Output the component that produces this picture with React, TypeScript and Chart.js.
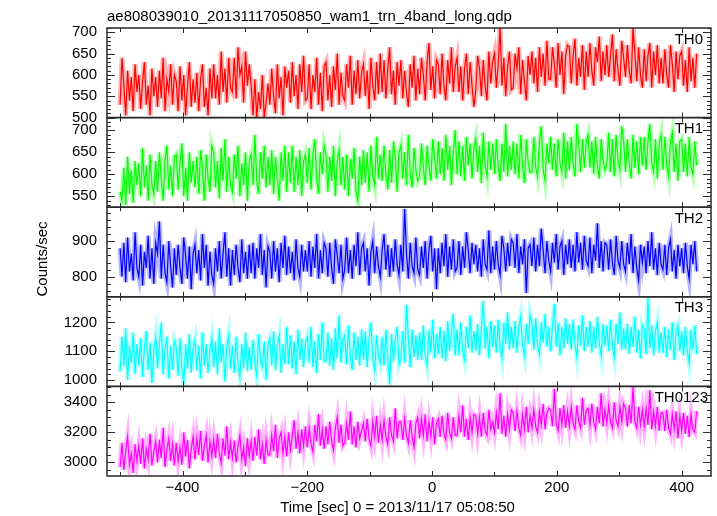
import React, { useEffect, useRef } from 'react';
import { Chart, registerables } from 'chart.js';

Chart.register(...registerables);

const TITLE = 'ae808039010_20131117050850_wam1_trn_4band_long.qdp';
const X_TITLE = 'Time [sec] 0 = 2013/11/17 05:08:50';
const Y_TITLE = 'Counts/sec';
const TIME_START = -500;
const TIME_BIN = 3;
const X_TICKS = [-400, -200, 0, 200, 400];
const PANEL_LABELS = ['TH0', 'TH1', 'TH2', 'TH3', 'TH0123'];

const TH0 = [
  530, 640, 575, 505, 610, 540, 595, 515, 625, 560,
  600, 520, 585, 630, 530, 575, 505, 615, 550, 595,
  525, 610, 545, 640, 515, 590, 560, 625, 530, 600,
  585, 515, 620, 540, 600, 505, 575, 630, 525, 590,
  535, 605, 515, 590, 625, 525, 570, 505, 615, 545,
  625, 545, 600, 530, 655, 560, 615, 535, 640, 570,
  560, 640, 545, 665, 600, 620, 535, 655, 575, 625,
  575, 505, 590, 500, 560, 520, 600, 500, 535, 580,
  530, 615, 550, 510, 625, 545, 595, 505, 620, 570,
  610, 535, 630, 550, 600, 520, 625, 560, 645, 540,
  545, 625, 520, 600, 560, 640, 530, 605, 515, 620,
  630, 540, 600, 525, 620, 565, 650, 530, 605, 550,
  540, 625, 570, 645, 530, 610, 555, 635, 545, 605,
  625, 550, 610, 520, 640, 575, 540, 630, 555, 650,
  560, 635, 545, 615, 665, 555, 610, 530, 630, 575,
  635, 545, 610, 560, 525, 625, 570, 645, 540, 615,
  555, 640, 600, 540, 630, 675, 565, 620, 545, 635,
  625, 555, 650, 575, 540, 635, 580, 665, 560, 620,
  640, 560, 620, 540, 615, 650, 555, 630, 575, 525,
  565, 645, 615, 550, 635, 575, 540, 655, 580, 630,
  650, 570, 625, 715, 575, 640, 550, 620, 655, 565,
  570, 650, 615, 665, 555, 635, 585, 540, 645, 600,
  655, 580, 640, 560, 665, 595, 650, 575, 680, 590,
  590, 665, 625, 570, 675, 600, 655, 555, 645, 670,
  665, 580, 645, 685, 575, 640, 595, 670, 565, 655,
  595, 675, 610, 575, 665, 630, 690, 585, 655, 600,
  670, 595, 645, 695, 585, 660, 610, 575, 680, 640,
  595, 670, 610, 580, 712, 650, 585, 665, 600, 570,
  660, 585, 645, 675, 570, 655, 600, 670, 580, 640,
  580, 660, 600, 570, 670, 625, 560, 655, 590, 645,
  655, 575, 635, 560, 665, 585, 640, 570, 650,
];

const TH1 = [
  560, 540, 615, 530, 640, 555, 610, 535, 630, 575,
  625, 550, 660, 570, 620, 540, 645, 575, 555, 630,
  560, 650, 590, 540, 635, 665, 565, 620, 550, 640,
  645, 565, 625, 670, 550, 615, 540, 650, 580, 630,
  570, 640, 555, 655, 615, 540, 645, 590, 560, 665,
  650, 570, 630, 545, 660, 585, 680, 560, 640, 575,
  560, 645, 590, 665, 550, 625, 575, 650, 540, 630,
  645, 575, 690, 585, 555, 650, 590, 665, 570, 640,
  575, 655, 555, 640, 590, 540, 650, 585, 665, 560,
  650, 580, 665, 560, 640, 575, 655, 550, 630, 645,
  580, 660, 565, 645, 680, 590, 555, 650, 600, 665,
  645, 560, 640, 585, 665, 550, 630, 655, 575, 640,
  565, 645, 550, 635, 590, 660, 560, 540, 640, 575,
  655, 580, 650, 560, 665, 595, 575, 685, 590, 645,
  585, 665, 600, 565, 655, 580, 675, 640, 560, 650,
  665, 590, 650, 575, 690, 600, 570, 660, 610, 585,
  595, 670, 615, 575, 665, 620, 585, 680, 640, 590,
  675, 600, 660, 585, 690, 610, 665, 575, 650, 700,
  600, 675, 595, 665, 585, 685, 620, 670, 590, 660,
  680, 605, 665, 580, 695, 620, 595, 675, 610, 670,
  600, 680, 615, 585, 670, 605, 715, 595, 665, 610,
  675, 600, 670, 590, 690, 620, 580, 680, 625, 605,
  605, 685, 615, 595, 675, 710, 610, 585, 670, 625,
  685, 610, 670, 595, 680, 625, 605, 695, 590, 675,
  610, 685, 625, 595, 715, 670, 605, 680, 615, 675,
  690, 615, 675, 600, 685, 620, 590, 680, 630, 610,
  620, 695, 605, 680, 595, 690, 630, 610, 710, 675,
  605, 680, 625, 590, 690, 615, 675, 600, 685, 620,
  685, 610, 675, 715, 625, 605, 680, 590, 670, 690,
  610, 685, 620, 595, 675, 695, 605, 670, 585, 675,
  680, 605, 670, 595, 685, 615, 600, 675, 620,
];

const TH2 = [
  880, 800, 895, 785, 910, 815, 865, 790, 925, 825,
  800, 890, 775, 870, 825, 915, 795, 880, 780, 895,
  865, 955, 795, 890, 810, 785, 900, 830, 770, 880,
  805, 890, 825, 780, 910, 860, 795, 885, 765, 865,
  890, 810, 875, 790, 920, 825, 890, 775, 870, 805,
  780, 880, 815, 900, 795, 865, 925, 800, 880, 775,
  875, 805, 890, 825, 785, 905, 810, 870, 795, 890,
  810, 895, 795, 880, 825, 920, 805, 875, 770, 885,
  870, 795, 900, 815, 880, 785, 895, 825, 915, 805,
  885, 810, 870, 790, 905, 825, 800, 890, 815, 875,
  815, 900, 800, 885, 825, 920, 795, 875, 810, 895,
  880, 800, 895, 825, 780, 905, 860, 810, 890, 795,
  820, 910, 810, 875, 795, 890, 830, 925, 805, 880,
  895, 815, 880, 775, 870, 900, 810, 885, 830, 800,
  875, 920, 820, 890, 800, 880, 815, 905, 835, 805,
  890, 815, 990, 865, 795, 895, 830, 810, 910, 820,
  805, 885, 825, 900, 795, 875, 915, 815, 880, 765,
  880, 810, 895, 830, 920, 800, 885, 820, 905, 815,
  825, 900, 805, 885, 825, 925, 875, 810, 895, 835,
  890, 815, 880, 800, 905, 835, 820, 930, 810, 885,
  820, 900, 835, 805, 915, 880, 815, 895, 830, 905,
  895, 825, 920, 810, 885, 835, 905, 755, 880, 890,
  830, 910, 815, 890, 830, 935, 875, 810, 900, 845,
  815, 895, 840, 920, 820, 885, 900, 805, 890, 835,
  905, 825, 890, 815, 925, 840, 895, 820, 915, 845,
  830, 910, 810, 890, 845, 950, 825, 900, 815, 895,
  890, 820, 905, 840, 805, 915, 845, 825, 900, 835,
  815, 895, 835, 920, 810, 885, 825, 790, 890, 840,
  885, 810, 900, 830, 925, 820, 880, 805, 895, 835,
  820, 890, 805, 880, 905, 815, 875, 795, 890, 830,
  880, 810, 895, 830, 795, 890, 835, 900, 815,
];

const TH3 = [
  1030, 1150, 1050, 1180, 1000, 1120, 1060, 1165, 1020, 1125,
  1050, 1145, 1010, 1115, 1170, 1035, 1130, 990, 1105, 1150,
  1040, 1125, 1200, 1020, 1105, 1150, 1005, 1120, 1035, 1135,
  1115, 1015, 1145, 1045, 985, 1125, 1040, 1160, 1025, 1110,
  1140, 1035, 1120, 1005, 1165, 1050, 1125, 1025, 1105, 1145,
  1045, 1135, 1020, 1180, 1060, 1125, 995, 1115, 1155, 1040,
  1120, 1025, 1150, 1050, 1010, 1125, 1040, 1165, 1030, 1115,
  1035, 1140, 1055, 1015, 1160, 1065, 1045, 1135, 1000, 1125,
  1145, 1050, 1170, 1035, 1120, 1155, 1025, 1125, 1055, 1185,
  1055, 1155, 1040, 1135, 1020, 1175, 1070, 1145, 1045, 1130,
  1150, 1060, 1185, 1045, 1135, 1025, 1160, 1070, 1200, 1065,
  1065, 1165, 1050, 1145, 1035, 1180, 1075, 1225, 1060, 1140,
  1155, 1055, 1190, 1080, 1035, 1165, 1070, 1150, 1050, 1175,
  1070, 1170, 1045, 1145, 1200, 1075, 1035, 1155, 1085, 1060,
  1150, 1050, 1175, 1075, 985, 1160, 1065, 1140, 1185, 1055,
  1075, 1170, 1060, 1260, 1145, 1045, 1175, 1080, 1155, 1070,
  1165, 1070, 1190, 1085, 1050, 1175, 1095, 1210, 1075, 1160,
  1090, 1185, 1075, 1170, 1065, 1205, 1100, 1165, 1230, 1085,
  1175, 1085, 1200, 1100, 1070, 1185, 1110, 1225, 1095, 1170,
  1100, 1195, 1085, 1180, 1275, 1110, 1185, 1075, 1205, 1115,
  1190, 1095, 1210, 1115, 1075, 1200, 1125, 1235, 1105, 1185,
  1110, 1205, 1095, 1185, 1220, 1120, 1085, 1195, 1125, 1225,
  1195, 1105, 1215, 1120, 1090, 1200, 1130, 1230, 1115, 1185,
  1100, 1190, 1265, 1115, 1200, 1085, 1185, 1110, 1215, 1125,
  1195, 1105, 1210, 1125, 1080, 1190, 1120, 1225, 1100, 1185,
  1115, 1205, 1095, 1185, 1110, 1220, 1125, 1085, 1195, 1120,
  1190, 1100, 1210, 1120, 1080, 1195, 1125, 1235, 1105, 1180,
  1105, 1195, 1090, 1185, 1115, 1220, 1095, 1175, 1075, 1190,
  1175, 1090, 1285, 1110, 1190, 1085, 1170, 1200, 1095, 1165,
  1095, 1185, 1080, 1175, 1105, 1200, 1070, 1170, 1190, 1100,
  1170, 1085, 1185, 1100, 1060, 1175, 1105, 1190, 1090,
];

const TH0123 = [
  2970, 3130, 2950, 3080, 3170, 2985, 3060, 2930, 3120, 3010,
  3110, 2990, 3160, 2960, 3090, 3020, 3190, 2980, 3070, 3140,
  3000, 3150, 3030, 3230, 2970, 3090, 3160, 3010, 3120, 2980,
  3130, 3010, 3100, 2985, 3200, 3040, 3150, 2960, 3090, 3170,
  3020, 3160, 3050, 3210, 3010, 3110, 3180, 3000, 3140, 3040,
  3150, 3030, 3190, 3060, 2995, 3160, 3045, 3240, 3020, 3135,
  3030, 3145, 3000, 3110, 3180, 3020, 3100, 2975, 3160, 3040,
  3140, 3010, 3170, 3045, 3220, 3020, 3120, 2990, 3150, 3050,
  3050, 3180, 3075, 3250, 3030, 3160, 3200, 3060, 3170, 3040,
  3200, 3080, 3180, 3280, 3090, 3200, 3060, 3220, 3110, 3240,
  3100, 3230, 3120, 3070, 3250, 3140, 3320, 3110, 3220, 3090,
  3240, 3120, 3270, 3140, 3080, 3230, 3300, 3130, 3250, 3110,
  3130, 3260, 3150, 3340, 3120, 3240, 3100, 3270, 3160, 3210,
  3260, 3140, 3290, 3160, 3110, 3270, 3170, 3310, 3130, 3250,
  3150, 3280, 3170, 3120, 3300, 3180, 3140, 3360, 3160, 3270,
  3270, 3150, 3290, 3180, 3130, 3280, 3170, 3100, 3260, 3300,
  3160, 3290, 3180, 3320, 3140, 3270, 3170, 3300, 3120, 3260,
  3290, 3170, 3310, 3190, 3150, 3330, 3200, 3160, 3300, 3180,
  3180, 3310, 3200, 3380, 3170, 3290, 3150, 3300, 3200, 3320,
  3310, 3190, 3300, 3170, 3330, 3210, 3180, 3350, 3220, 3270,
  3200, 3330, 3220, 3460, 3190, 3310, 3170, 3320, 3220, 3350,
  3330, 3210, 3340, 3230, 3180, 3320, 3220, 3370, 3200, 3310,
  3230, 3350, 3240, 3200, 3340, 3250, 3390, 3220, 3330, 3360,
  3350, 3240, 3490, 3260, 3210, 3360, 3250, 3380, 3230, 3340,
  3240, 3370, 3260, 3220, 3380, 3270, 3230, 3430, 3250, 3350,
  3360, 3250, 3390, 3270, 3220, 3370, 3260, 3460, 3240, 3350,
  3260, 3380, 3270, 3230, 3400, 3280, 3240, 3370, 3270, 3390,
  3360, 3240, 3380, 3260, 3500, 3270, 3230, 3370, 3250, 3350,
  3240, 3360, 3250, 3480, 3220, 3340, 3240, 3370, 3210, 3330,
  3330, 3210, 3350, 3230, 3190, 3320, 3220, 3340, 3160, 3310,
  3210, 3330, 3190, 3310, 3170, 3320, 3220, 3200, 3340,
];

const SERIES = [TH0, TH1, TH2, TH3, TH0123];
const COLORS = ['#ff0000', '#00ff00', '#0000ff', '#00ffff', '#ff00ff'];
const LIGHT = [
  'rgba(255,90,90,0.45)',
  'rgba(90,255,90,0.45)',
  'rgba(90,90,255,0.45)',
  'rgba(90,255,255,0.45)',
  'rgba(255,90,255,0.45)',
];
const Y_MIN = [500, 525, 744, 978, 2909];
const Y_MAX = [710, 729, 995, 1289, 3506];
const Y_MAJOR = [50, 50, 100, 100, 200];
const Y_MINOR = [10, 10, 20, 20, 50];
const LABEL_RIGHT = [703, 703, 703, 703, 708];

const FONT = '"Liberation Sans", Arial, Helvetica, sans-serif';
const FRAME = '#2b2b2b';

const TIME = TH0.map((_, i) => TIME_START + i * TIME_BIN);

const qdpPlugin = {
  id: 'qdp',
  beforeDatasetDraw(chart: any, args: any) {
    const ys = args.meta.yScale;
    const ca = chart.chartArea;
    const ctx = chart.ctx;
    ctx.save();
    ctx.beginPath();
    ctx.rect(ca.left, ys.top, ca.right - ca.left, ys.bottom - ys.top);
    ctx.clip();
  },
  afterDatasetDraw(chart: any) {
    chart.ctx.restore();
  },
  afterDraw(chart: any) {
    const ctx = chart.ctx;
    const ca = chart.chartArea;
    const xs = chart.scales.x;
    ctx.save();
    const line = (x1: number, y1: number, x2: number, y2: number) => {
      ctx.beginPath();
      ctx.moveTo(x1, y1);
      ctx.lineTo(x2, y2);
      ctx.stroke();
    };
    for (let i = 0; i < SERIES.length; i++) {
      const ys = chart.scales['y' + i];
      const top = ys.top;
      const bot = ys.bottom;
      ctx.strokeStyle = FRAME;
      ctx.lineWidth = 1;
      const minor = Y_MINOR[i];
      const major = Y_MAJOR[i];
      for (let v = Math.ceil(ys.min / minor) * minor; v <= ys.max; v += minor) {
        const py = Math.round(ys.getPixelForValue(v)) + 0.5;
        const len = v % major === 0 ? 8 : 4;
        line(ca.left, py, ca.left + len, py);
        line(ca.right, py, ca.right - len, py);
      }
      for (let t = -500; t <= 400; t += 100) {
        const px = Math.round(xs.getPixelForValue(t)) + 0.5;
        const len = t % 200 === 0 ? 5 : 4;
        line(px, top, px, top + len);
        line(px, bot, px, bot - len);
      }
      ctx.lineWidth = 1.5;
      ctx.strokeRect(ca.left, top, ca.right - ca.left, bot - top);
      ctx.fillStyle = '#000';
      ctx.font = '15px ' + FONT;
      ctx.textAlign = 'right';
      ctx.textBaseline = 'alphabetic';
      ctx.fillText(PANEL_LABELS[i], LABEL_RIGHT[i], top + 15.5);
    }
    ctx.fillStyle = '#000';
    ctx.font = '15px ' + FONT;
    ctx.textAlign = 'left';
    ctx.textBaseline = 'alphabetic';
    ctx.fillText(TITLE, 107, 21);
    ctx.textAlign = 'center';
    ctx.fillText(X_TITLE, 397.5, 512);
    ctx.translate(46.5, 259);
    ctx.rotate(-Math.PI / 2);
    ctx.fillText(Y_TITLE, 0, 0);
    ctx.restore();
  },
};

export default function App() {
  const ref = useRef<HTMLCanvasElement>(null);
  useEffect(() => {
    const datasets: any[] = [];
    SERIES.forEach((s, i) => {
      const pts = s.map((v, k) => ({ x: TIME[k], y: v }));
      datasets.push({
        data: pts,
        yAxisID: 'y' + i,
        borderColor: COLORS[i],
        borderWidth: 1.2,
        pointRadius: 0,
        tension: 0,
        order: 1,
      });
      datasets.push({
        data: pts,
        yAxisID: 'y' + i,
        borderColor: LIGHT[i],
        borderWidth: 5,
        pointRadius: 0,
        tension: 0,
        order: 2,
      });
    });
    const scales: any = {
      x: {
        type: 'linear',
        position: 'bottom',
        min: -521,
        max: 447,
        afterFit: (s: any) => {
          s.height = 40;
        },
        afterBuildTicks: (s: any) => {
          s.ticks = X_TICKS.map((v) => ({ value: v }));
        },
        grid: { display: false, drawTicks: false },
        border: { display: false },
        ticks: {
          font: { family: FONT, size: 15 },
          color: '#000',
          padding: 3,
          maxRotation: 0,
          autoSkip: false,
          callback: (v: any) => String(v).replace('-', '\u2212'),
        },
      },
    };
    for (let i = SERIES.length - 1; i >= 0; i--) {
      const major = Y_MAJOR[i];
      scales['y' + i] = {
        type: 'linear',
        position: 'left',
        stack: 'panels',
        stackWeight: 1,
        min: Y_MIN[i],
        max: Y_MAX[i],
        afterFit: (s: any) => {
          s.width = 107;
        },
        afterBuildTicks: (s: any) => {
          const ticks: any[] = [];
          for (let v = Math.ceil(s.min / major) * major; v <= s.max; v += major) {
            ticks.push({ value: v });
          }
          s.ticks = ticks;
        },
        grid: { display: false, drawTicks: false },
        border: { display: false },
        ticks: {
          font: { family: FONT, size: 15 },
          color: '#000',
          padding: 10,
          autoSkip: false,
          callback: (v: any) => String(v),
        },
      };
    }
    const chart = new Chart(ref.current as HTMLCanvasElement, {
      type: 'line',
      data: { datasets },
      options: {
        animation: false,
        responsive: false,
        devicePixelRatio: 1,
        layout: { padding: { top: 28, right: 6, left: 0, bottom: 0 } },
        plugins: { legend: { display: false }, tooltip: { enabled: false }, title: { display: false } },
        scales,
      },
      plugins: [qdpPlugin],
    } as any);
    return () => chart.destroy();
  }, []);
  return (
    <div style={{ position: 'absolute', left: 0, top: 0, width: 717, height: 516, background: '#fff' }}>
      <canvas ref={ref} width={717} height={516} style={{ display: 'block', width: 717, height: 516 }} />
    </div>
  );
}
